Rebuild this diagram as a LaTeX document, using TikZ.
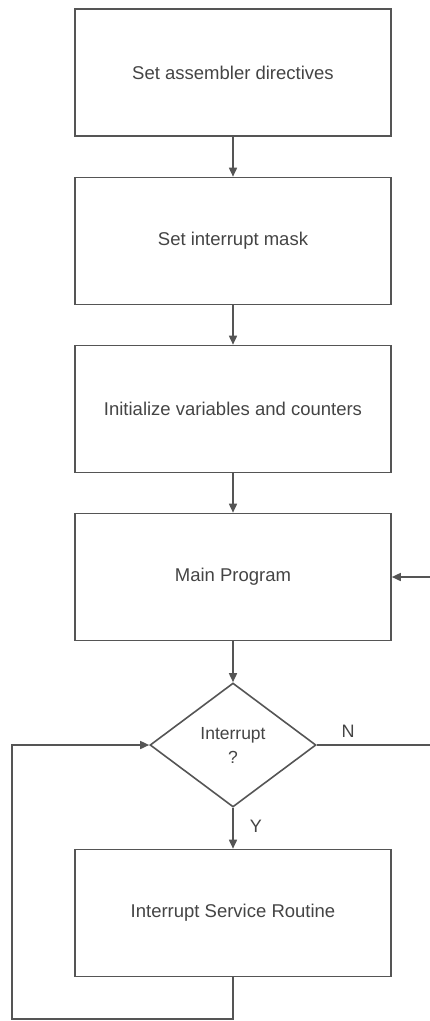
\documentclass[tikz,border=0pt]{standalone}
\usepackage{fontspec}
\setmainfont{Liberation Sans}
\usetikzlibrary{shapes.geometric,arrows.meta}
\definecolor{linegray}{HTML}{555555}
\definecolor{textgray}{HTML}{444444}
\begin{document}
\begin{tikzpicture}[x=1pt,y=-1pt,
  stepbox/.style={draw=linegray,line width=1.6pt,minimum width=316pt,minimum height=127pt,inner sep=0pt,font=\fontsize{18.5}{20}\selectfont,text=textgray},
  decision/.style={diamond,draw=linegray,line width=1.6pt,minimum width=166pt,minimum height=124pt,inner sep=0pt,aspect=1.34,font=\fontsize{17.5}{24}\selectfont,text=textgray,align=center},
  conn/.style={draw=linegray,line width=1.6pt,-{Triangle[length=9pt,width=8pt]}},
  plain/.style={draw=linegray,line width=1.6pt},
  lbl/.style={font=\fontsize{18}{20}\selectfont,text=textgray}]
\useasboundingbox (0,0) rectangle (430,1021);
\node[stepbox] (b1) at (233,72.5) {Set assembler directives};
\node[stepbox] (b2) at (233,241) {Set interrupt mask};
\node[stepbox] (b3) at (233,409) {Initialize variables and counters};
\node[stepbox] (b4) at (233,577) {Main Program};
\node[decision] (d) at (233,745) {Interrupt\\?};
\node[stepbox] (b5) at (233,913) {Interrupt Service Routine};
\coordinate (rtop) at (434,577);
\coordinate (rbot) at (434,745);
\coordinate (lbot) at (12,1019);
\coordinate (ltop) at (12,745);
\coordinate (bb) at (233,1019);
\draw[conn] (b1.south) -- (b2.north);
\draw[conn] (b2.south) -- (b3.north);
\draw[conn] (b3.south) -- (b4.north);
\draw[conn] (b4.south) -- (d.north);
\draw[conn] (d.south) -- (b5.north);
\draw[plain] (d.east) -- (rbot) -- (rtop);
\draw[conn] (rtop) -- (b4.east);
\draw[conn] (b5.south) -- (bb) -- (lbot) -- (ltop) -- (d.west);
\node[lbl] (nlab) at (348,731) {N};
\node[lbl] (ylab) at (256,826) {Y};
\end{tikzpicture}
\end{document}
